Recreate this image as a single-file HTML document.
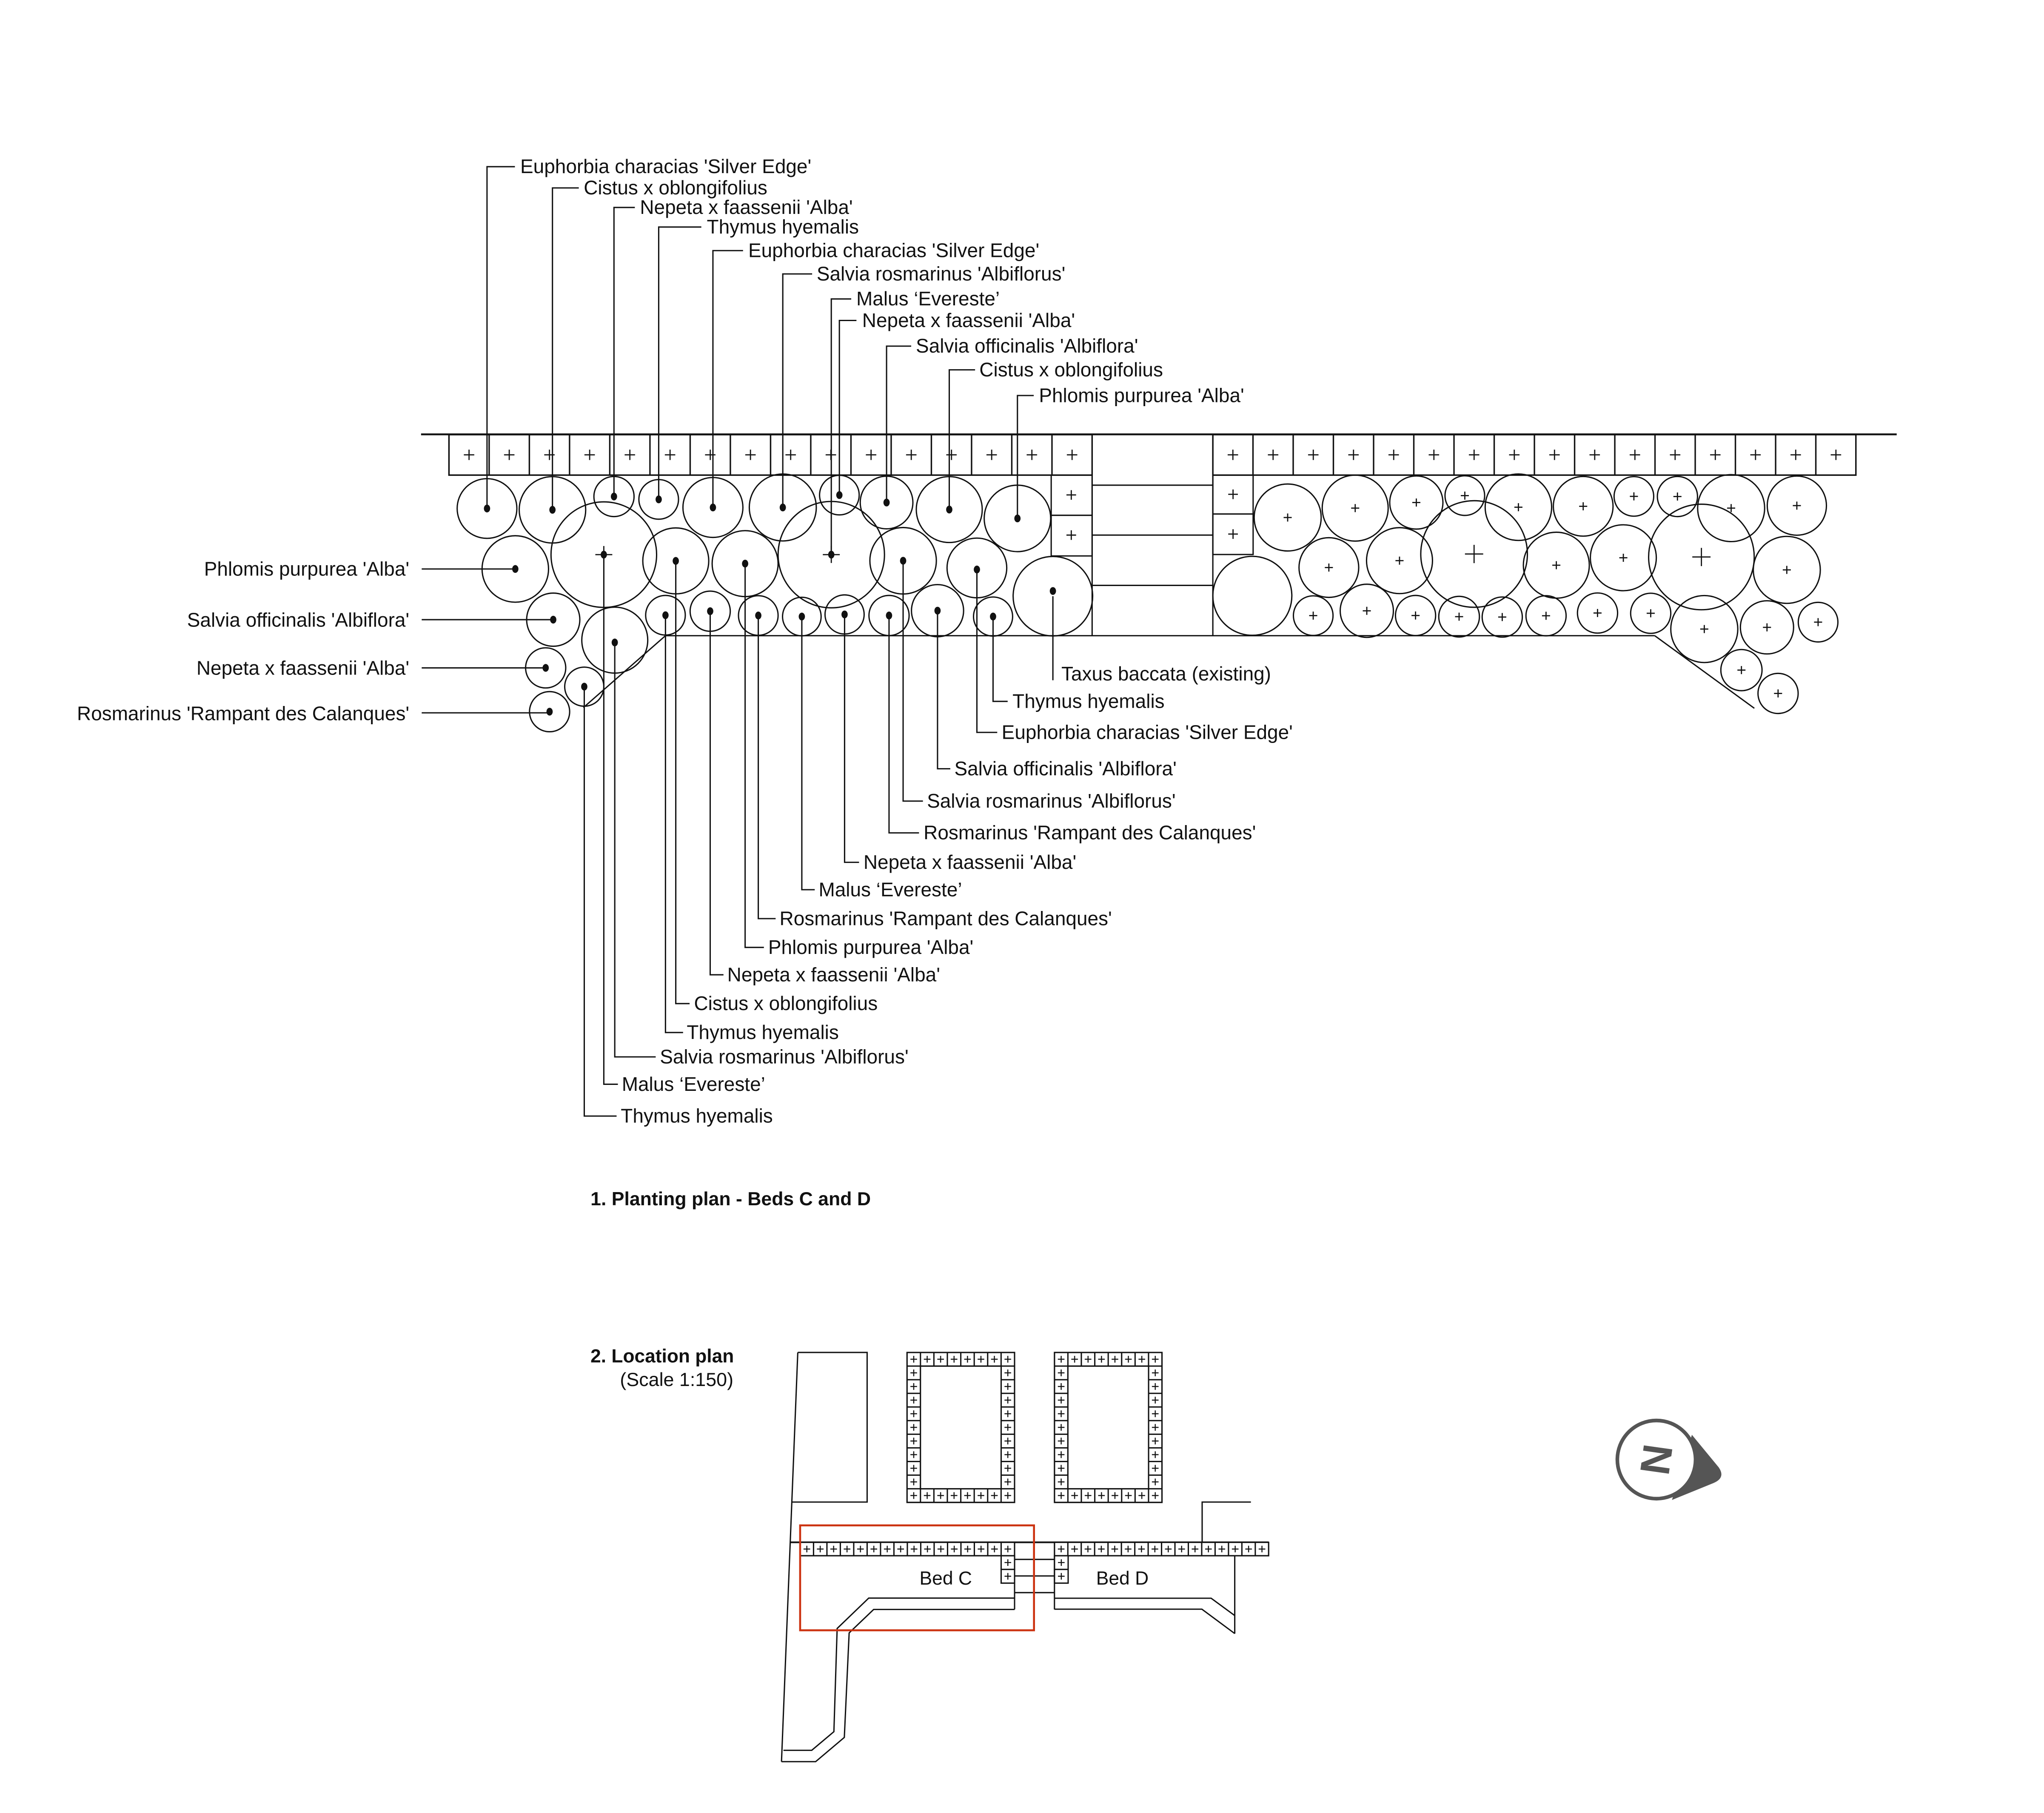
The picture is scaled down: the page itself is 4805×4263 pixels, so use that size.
<!DOCTYPE html>
<html><head><meta charset="utf-8"><style>
html,body{margin:0;padding:0;background:#fff;}
svg{display:block;}
text{font-family:"Liberation Sans",sans-serif;font-size:15px;fill:#111;}
</style></head><body>
<svg width="4805" height="4263" viewBox="0 0 1568 1391.2" preserveAspectRatio="none" xmlns="http://www.w3.org/2000/svg">
<defs>
<pattern id="pb" x="344.4" y="333.5" width="30.84" height="31.1" patternUnits="userSpaceOnUse">
<rect x="0" y="0" width="30.84" height="31.1" fill="#fff" stroke="#111" stroke-width="1.1"/>
<path d="M15.42 11.5v8M11.42 15.5h8" stroke="#111" stroke-width="0.9"/>
</pattern>
<pattern id="s1" x="695.8" y="1037.8" width="10.31" height="10.46" patternUnits="userSpaceOnUse">
<rect x="0" y="0" width="10.31" height="10.46" fill="#fff" stroke="#111" stroke-width="1"/>
<path d="M5.15 2.6v5.2M2.6 5.2h5.1" stroke="#111" stroke-width="0.8"/>
</pattern>
<pattern id="s2" x="808.9" y="1037.8" width="10.31" height="10.46" patternUnits="userSpaceOnUse">
<rect x="0" y="0" width="10.31" height="10.46" fill="#fff" stroke="#111" stroke-width="1"/>
<path d="M5.15 2.6v5.2M2.6 5.2h5.1" stroke="#111" stroke-width="0.8"/>
</pattern>
<pattern id="s3" x="613.8" y="1183.5" width="10.28" height="10.3" patternUnits="userSpaceOnUse">
<rect x="0" y="0" width="10.28" height="10.3" fill="#fff" stroke="#111" stroke-width="1"/>
<path d="M5.14 2.6v5.1M2.6 5.15h5.1" stroke="#111" stroke-width="0.8"/>
</pattern>
<pattern id="s4" x="808.9" y="1183.5" width="10.27" height="10.3" patternUnits="userSpaceOnUse">
<rect x="0" y="0" width="10.27" height="10.3" fill="#fff" stroke="#111" stroke-width="1"/>
<path d="M5.13 2.6v5.1M2.6 5.15h5.1" stroke="#111" stroke-width="0.8"/>
</pattern>
</defs>

<g stroke="#111" fill="none" stroke-width="1">
<line x1="323" y1="333.3" x2="1455" y2="333.3" stroke-width="1.4"/>
<rect x="344.4" y="333.5" width="493.4" height="31.1" fill="url(#pb)" stroke-width="1.1"/>
<rect x="930.4" y="333.5" width="493.3" height="31.1" fill="url(#pb)" stroke-width="1.1"/>
<rect x="806.4" y="364.6" width="31.4" height="30.8"/>
<rect x="806.4" y="395.4" width="31.4" height="31.2"/>
<rect x="930.4" y="364.6" width="30.9" height="29.8"/>
<rect x="930.4" y="394.4" width="30.9" height="31.1"/>
<path d="M818.1 379.8h7.4M821.8 376.1v7.4M818.1 410.6h7.4M821.8 406.9v7.4M942.2 379.3h7.4M945.9 375.6v7.4M942.2 409.8h7.4M945.9 406.1v7.4" stroke-width="0.9"/>
<line x1="837.8" y1="364.6" x2="837.8" y2="487.8"/>
<line x1="930.4" y1="364.6" x2="930.4" y2="487.8"/>
<line x1="837.8" y1="372.3" x2="930.4" y2="372.3"/>
<line x1="837.8" y1="410.6" x2="930.4" y2="410.6"/>
<line x1="837.8" y1="449.2" x2="930.4" y2="449.2"/>
<line x1="510.5" y1="487.8" x2="1269.4" y2="487.8"/>
<line x1="1269.4" y1="487.8" x2="1345.8" y2="543.5"/>
<line x1="510.5" y1="487.8" x2="447.5" y2="543"/>

<circle cx="373.6" cy="390.2" r="22.9"/>
<circle cx="423.8" cy="391.2" r="25.5"/>
<circle cx="471" cy="381" r="15.4"/>
<circle cx="505.3" cy="383.2" r="15.2"/>
<circle cx="546.9" cy="389.4" r="23"/>
<circle cx="600.5" cy="389.4" r="25.7"/>
<circle cx="643.9" cy="379.9" r="15.2"/>
<circle cx="680.1" cy="385.6" r="20.2"/>
<circle cx="728.2" cy="391" r="25.3"/>
<circle cx="780.5" cy="397.8" r="25.5"/>
<circle cx="463.2" cy="425.6" r="40.5"/>
<circle cx="637.7" cy="425.6" r="40.8"/>
<circle cx="395.3" cy="436.6" r="25.5"/>
<circle cx="518.4" cy="430.4" r="25.3"/>
<circle cx="571.6" cy="432.5" r="25.3"/>
<circle cx="692.8" cy="430.3" r="25.5"/>
<circle cx="749.4" cy="435.8" r="22.9"/>
<circle cx="807.7" cy="457.5" r="30.5"/>
<circle cx="424.4" cy="475.5" r="20.4"/>
<circle cx="471.6" cy="491.2" r="25.3"/>
<circle cx="510.5" cy="472.1" r="15.2"/>
<circle cx="544.8" cy="469" r="15.4"/>
<circle cx="581.7" cy="472.3" r="15.2"/>
<circle cx="615.1" cy="473.1" r="14.8"/>
<circle cx="647.9" cy="471.5" r="15"/>
<circle cx="682" cy="472.3" r="15.4"/>
<circle cx="719.2" cy="468.6" r="20"/>
<circle cx="761.8" cy="473.1" r="15"/>
<circle cx="418.6" cy="512.5" r="15.4"/>
<circle cx="448.2" cy="526.9" r="15"/>
<circle cx="421.6" cy="546.1" r="15.4"/>

<circle cx="960.7" cy="457.2" r="30.3"/>
<circle cx="987.8" cy="397.1" r="25.7"/>
<circle cx="1039.6" cy="389.9" r="25.3"/>
<circle cx="1086.5" cy="385.6" r="20.4"/>
<circle cx="1123.7" cy="380.3" r="15.2"/>
<circle cx="1164.8" cy="389.2" r="25.5"/>
<circle cx="1214.5" cy="388.5" r="22.9"/>
<circle cx="1253.4" cy="380.9" r="15.2"/>
<circle cx="1286.8" cy="381" r="15.4"/>
<circle cx="1328" cy="389.9" r="25.7"/>
<circle cx="1378.4" cy="388" r="22.7"/>
<circle cx="1130.8" cy="425.1" r="40.9"/>
<circle cx="1305.2" cy="427.4" r="40.5"/>
<circle cx="1019.4" cy="435.5" r="22.9"/>
<circle cx="1073.6" cy="430.2" r="25.3"/>
<circle cx="1193.9" cy="433.7" r="25.3"/>
<circle cx="1245.3" cy="428" r="25.3"/>
<circle cx="1370.7" cy="437.3" r="25.7"/>
<circle cx="1007.4" cy="472.4" r="15.2"/>
<circle cx="1048.5" cy="468.7" r="20.4"/>
<circle cx="1085.9" cy="472.3" r="15.4"/>
<circle cx="1119.3" cy="473.2" r="15.6"/>
<circle cx="1152.4" cy="473.5" r="15.4"/>
<circle cx="1186" cy="472.5" r="15.4"/>
<circle cx="1225.5" cy="470.4" r="15.4"/>
<circle cx="1266.3" cy="470.6" r="15.4"/>
<circle cx="1307.4" cy="482.7" r="25.7"/>
<circle cx="1355.5" cy="481.4" r="20.4"/>
<circle cx="1394.7" cy="477.4" r="15.2"/>
<circle cx="1335.9" cy="514.2" r="15.8"/>
<circle cx="1364" cy="532.1" r="15.4"/>
</g>

<g stroke="#111" stroke-width="0.9">
<path d="M987.8 394v6.2M984.7 397.1h6.2"/>
<path d="M1039.6 386.8v6.2M1036.5 389.9h6.2"/>
<path d="M1086.5 382.5v6.2M1083.4 385.6h6.2"/>
<path d="M1123.7 377.2v6.2M1120.6 380.3h6.2"/>
<path d="M1164.8 386.1v6.2M1161.7 389.2h6.2"/>
<path d="M1214.5 385.4v6.2M1211.4 388.5h6.2"/>
<path d="M1253.4 377.8v6.2M1250.3 380.9h6.2"/>
<path d="M1286.8 377.9v6.2M1283.7 381h6.2"/>
<path d="M1328 386.8v6.2M1324.9 389.9h6.2"/>
<path d="M1378.4 384.9v6.2M1375.3 388h6.2"/>
<path d="M1130.8 418.1v14M1123.8 425.1h14"/>
<path d="M1305.2 420.4v14M1298.2 427.4h14"/>
<path d="M1019.4 432.4v6.2M1016.3 435.5h6.2"/>
<path d="M1073.6 427.1v6.2M1070.5 430.2h6.2"/>
<path d="M1193.9 430.6v6.2M1190.8 433.7h6.2"/>
<path d="M1245.3 424.9v6.2M1242.2 428h6.2"/>
<path d="M1370.7 434.2v6.2M1367.6 437.3h6.2"/>
<path d="M1007.4 469.3v6.2M1004.3 472.4h6.2"/>
<path d="M1048.5 465.6v6.2M1045.4 468.7h6.2"/>
<path d="M1085.9 469.2v6.2M1082.8 472.3h6.2"/>
<path d="M1119.3 470.1v6.2M1116.2 473.2h6.2"/>
<path d="M1152.4 470.4v6.2M1149.3 473.5h6.2"/>
<path d="M1186 469.4v6.2M1182.9 472.5h6.2"/>
<path d="M1225.5 467.3v6.2M1222.4 470.4h6.2"/>
<path d="M1266.3 467.5v6.2M1263.2 470.6h6.2"/>
<path d="M1307.4 479.6v6.2M1304.3 482.7h6.2"/>
<path d="M1355.5 478.3v6.2M1352.4 481.4h6.2"/>
<path d="M1394.7 474.3v6.2M1391.6 477.4h6.2"/>
<path d="M1335.9 511.1v6.2M1332.8 514.2h6.2"/>
<path d="M1364 529v6.2M1360.9 532.1h6.2"/>
<path d="M463.2 419v13M456.7 425.6h13"/>
<path d="M637.7 419v13M631.2 425.6h13"/>
</g>

<g fill="#111">
<ellipse cx="373.6" cy="390.2" rx="2.4" ry="3"/>
<ellipse cx="423.8" cy="391.2" rx="2.4" ry="3"/>
<ellipse cx="471" cy="381" rx="2.4" ry="3"/>
<ellipse cx="505.3" cy="383.2" rx="2.4" ry="3"/>
<ellipse cx="546.9" cy="389.4" rx="2.4" ry="3"/>
<ellipse cx="600.5" cy="389.4" rx="2.4" ry="3"/>
<ellipse cx="643.9" cy="379.9" rx="2.4" ry="3"/>
<ellipse cx="680.1" cy="385.6" rx="2.4" ry="3"/>
<ellipse cx="728.2" cy="391" rx="2.4" ry="3"/>
<ellipse cx="780.5" cy="397.8" rx="2.4" ry="3"/>
<ellipse cx="463.2" cy="425.6" rx="2.4" ry="3"/>
<ellipse cx="637.7" cy="425.6" rx="2.4" ry="3"/>
<ellipse cx="395.3" cy="436.6" rx="2.4" ry="3"/>
<ellipse cx="518.4" cy="430.4" rx="2.4" ry="3"/>
<ellipse cx="571.6" cy="432.5" rx="2.4" ry="3"/>
<ellipse cx="692.8" cy="430.3" rx="2.4" ry="3"/>
<ellipse cx="749.4" cy="437" rx="2.4" ry="3"/>
<ellipse cx="807.7" cy="453.5" rx="2.4" ry="3"/>
<ellipse cx="424.4" cy="475.5" rx="2.4" ry="3"/>
<ellipse cx="471.6" cy="493" rx="2.4" ry="3"/>
<ellipse cx="510.5" cy="472.1" rx="2.4" ry="3"/>
<ellipse cx="544.8" cy="469" rx="2.4" ry="3"/>
<ellipse cx="581.7" cy="472.3" rx="2.4" ry="3"/>
<ellipse cx="615.1" cy="473.1" rx="2.4" ry="3"/>
<ellipse cx="647.9" cy="471.5" rx="2.4" ry="3"/>
<ellipse cx="682" cy="472.3" rx="2.4" ry="3"/>
<ellipse cx="719.2" cy="468.6" rx="2.4" ry="3"/>
<ellipse cx="761.8" cy="473.1" rx="2.4" ry="3"/>
<ellipse cx="418.6" cy="512.5" rx="2.4" ry="3"/>
<ellipse cx="448.2" cy="526.9" rx="2.4" ry="3"/>
<ellipse cx="421.6" cy="546.1" rx="2.4" ry="3"/>
</g>

<g stroke="#111" fill="none" stroke-width="1">
<path d="M373.6 390.2V127.9H395"/>
<path d="M423.8 391.2V144.2H444"/>
<path d="M471 381V159.2H487"/>
<path d="M505.3 383.2V174.2H538"/>
<path d="M546.9 389.4V192.3H570"/>
<path d="M600.5 389.4V210.2H623"/>
<path d="M637.7 425.6V229.4H653"/>
<path d="M643.9 379.9V245.9H657"/>
<path d="M680.1 385.6V265.6H699"/>
<path d="M728.2 391V283.8H748"/>
<path d="M780.5 397.8V303.5H793"/>
<path d="M323.5 436.6H395.3"/>
<path d="M323.5 475.5H424.4"/>
<path d="M323.5 512.5H418.6"/>
<path d="M323.5 547H421.6"/>
<path d="M807.7 457.5V522"/>
<path d="M761.8 473.1V538.2H773"/>
<path d="M749.4 435.8V562H765"/>
<path d="M719.2 468.6V589.9H729"/>
<path d="M692.8 430.3V614.7H708"/>
<path d="M682 472.3V639.1H705"/>
<path d="M647.9 471.5V661.7H659"/>
<path d="M615.1 473.1V682.7H625"/>
<path d="M581.7 472.3V704.9H595"/>
<path d="M571.6 432.5V727H586"/>
<path d="M544.8 469V748H555"/>
<path d="M518.4 430.4V770.1H529"/>
<path d="M510.5 472.1V792.3H524"/>
<path d="M471.6 491.2V811H503"/>
<path d="M463.2 425.6V832H474"/>
<path d="M448.2 526.9V856.4H473"/>
</g>

<g>
<text x="399.1" y="132.9">Euphorbia characias 'Silver Edge'</text>
<text x="447.8" y="149.2">Cistus x oblongifolius</text>
<text x="490.9" y="164.2">Nepeta x faassenii 'Alba'</text>
<text x="542.2" y="179.2">Thymus hyemalis</text>
<text x="574" y="197.3">Euphorbia characias 'Silver Edge'</text>
<text x="626.5" y="215.2">Salvia rosmarinus 'Albiflorus'</text>
<text x="656.9" y="234.4">Malus ‘Evereste’</text>
<text x="661.4" y="250.9">Nepeta x faassenii 'Alba'</text>
<text x="702.6" y="270.6">Salvia officinalis 'Albiflora'</text>
<text x="751.3" y="288.8">Cistus x oblongifolius</text>
<text x="797" y="308.5">Phlomis purpurea 'Alba'</text>

<text x="314" y="441.7" text-anchor="end">Phlomis purpurea 'Alba'</text>
<text x="314" y="480.8" text-anchor="end">Salvia officinalis 'Albiflora'</text>
<text x="314" y="517.8" text-anchor="end">Nepeta x faassenii 'Alba'</text>
<text x="314" y="552.7" text-anchor="end">Rosmarinus 'Rampant des Calanques'</text>

<text x="814.2" y="522.2">Taxus baccata (existing)</text>
<text x="776.7" y="543.2">Thymus hyemalis</text>
<text x="768.4" y="567">Euphorbia characias 'Silver Edge'</text>
<text x="732.1" y="594.9">Salvia officinalis 'Albiflora'</text>
<text x="711.1" y="619.7">Salvia rosmarinus 'Albiflorus'</text>
<text x="708.5" y="644.1">Rosmarinus 'Rampant des Calanques'</text>
<text x="662.4" y="666.7">Nepeta x faassenii 'Alba'</text>
<text x="628" y="687.7">Malus ‘Evereste’</text>
<text x="598" y="709.9">Rosmarinus 'Rampant des Calanques'</text>
<text x="589.3" y="732">Phlomis purpurea 'Alba'</text>
<text x="557.9" y="753">Nepeta x faassenii 'Alba'</text>
<text x="532.4" y="775.1">Cistus x oblongifolius</text>
<text x="526.8" y="797.3">Thymus hyemalis</text>
<text x="506.2" y="816">Salvia rosmarinus 'Albiflorus'</text>
<text x="477" y="837">Malus ‘Evereste’</text>
<text x="476.2" y="861.4">Thymus hyemalis</text>

<text x="453" y="924.9" style="font-weight:bold;font-size:14.5px" textLength="215" lengthAdjust="spacingAndGlyphs">1. Planting plan - Beds C and D</text>
<text x="453" y="1045.5" style="font-weight:bold;font-size:14.5px" textLength="110" lengthAdjust="spacingAndGlyphs">2. Location plan</text>
<text x="475.6" y="1063.6" style="font-size:14.5px" textLength="87" lengthAdjust="spacingAndGlyphs">(Scale 1:150)</text>
</g>

<g stroke="#111" fill="none" stroke-width="1">
<path d="M612 1037.8H665.2V1152.6H607.8"/>
<line x1="612" y1="1037.8" x2="599.5" y2="1351.8"/>
<rect x="695.8" y="1037.8" width="82.5" height="115.1" fill="url(#s1)"/>
<rect x="706.1" y="1048.3" width="61.9" height="94.1" fill="#fff"/>
<rect x="808.9" y="1037.8" width="82.5" height="115.1" fill="url(#s2)"/>
<rect x="819.2" y="1048.3" width="61.9" height="94.1" fill="#fff"/>
<line x1="606.4" y1="1183.5" x2="973.2" y2="1183.5" stroke-width="1.3"/>
<rect x="613.8" y="1183.5" width="164.5" height="10.3" fill="url(#s3)"/>
<rect x="808.9" y="1183.5" width="164.3" height="10.3" fill="url(#s4)"/>
<rect x="768" y="1193.8" width="10.3" height="10.5" fill="#fff"/>
<rect x="768" y="1204.3" width="10.3" height="10.5" fill="#fff"/>
<rect x="808.9" y="1193.8" width="10.5" height="10.5" fill="#fff"/>
<rect x="808.9" y="1204.3" width="10.5" height="10.5" fill="#fff"/>
<path d="M773.15 1196.5v5.1M770.6 1199h5.1M773.15 1207v5.1M770.6 1209.5h5.1M814.15 1196.5v5.1M811.6 1199h5.1M814.15 1207v5.1M811.6 1209.5h5.1" stroke-width="0.8"/>
<line x1="778.3" y1="1193.8" x2="778.3" y2="1235"/>
<line x1="808.9" y1="1193.8" x2="808.9" y2="1235"/>
<line x1="778.3" y1="1196.6" x2="808.9" y2="1196.6"/>
<line x1="778.3" y1="1209.3" x2="808.9" y2="1209.3"/>
<line x1="778.3" y1="1222.1" x2="808.9" y2="1222.1"/>
<path d="M922.2 1183.5V1152.6H959.6"/>
<line x1="947.2" y1="1193.8" x2="947.2" y2="1253.6"/>
<path d="M778.3 1226.3H666.4L642.2 1249.6L639.7 1328.8L622.7 1343.1H601"/>
<path d="M778.3 1235H670.2L651.4 1253L647.7 1333.2L625.7 1351.8H599.5"/>
<path d="M808.9 1226.4H929.1L947.2 1239.7"/>
<path d="M808.9 1234.8H922L947.2 1253.5"/>
<rect x="613.8" y="1170.5" width="179.4" height="80.5" stroke="#cc3311" stroke-width="1.5"/>
</g>
<text x="725.5" y="1216" text-anchor="middle" style="font-size:14.5px">Bed C</text>
<text x="861" y="1216" text-anchor="middle" style="font-size:14.5px">Bed D</text>

<path d="M1297.9 1101 L1318.5 1126 Q1324 1134 1314.5 1138 L1282.6 1151 Z" fill="#555"/>
<circle cx="1270.7" cy="1120" r="30" fill="#fff" stroke="#555" stroke-width="2.8"/>
<text x="1270.7" y="1120" transform="rotate(98 1270.7 1120)" text-anchor="middle" dominant-baseline="central" style="font-weight:bold;font-size:32px;fill:#555">N</text>
</svg>
</body></html>
